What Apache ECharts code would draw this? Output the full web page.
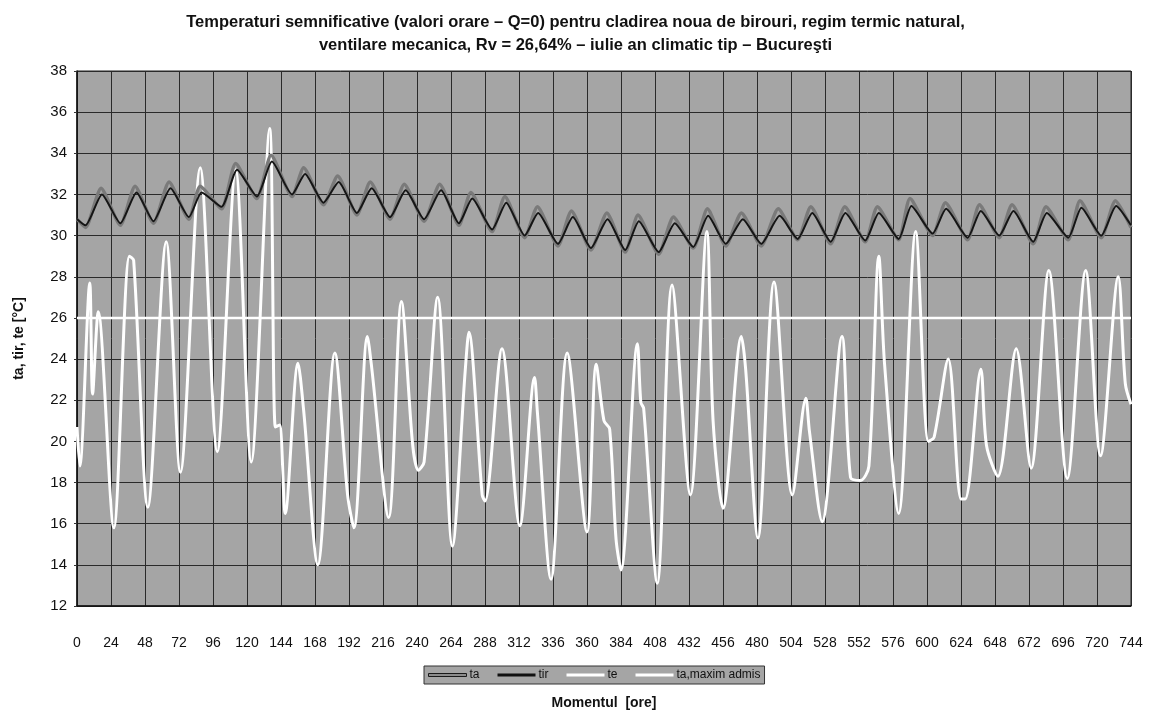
<!DOCTYPE html>
<html>
<head>
<meta charset="utf-8">
<script src="https://cdn.jsdelivr.net/npm/echarts@6/dist/echarts.min.js"></script>
<style>
  html, body { margin: 0; padding: 0; background: #ffffff; }
  #chart { width: 1151px; height: 715px; }
</style>
</head>
<body>
<div id="chart"></div>
<script>
// Hourly temperatures for July (hours 0..744), extremes of each daily cycle
const xTicks = { min: 0, max: 744, step: 24 };
const yTicks = { min: 12, max: 38, step: 2 };
const seriesNames = ['ta', 'tir', 'te', 'ta,maxim admis'];

// ta - indoor air temperature [°C]
const ta = [
  [0,30.8],[6,30.4],[17,32.3],[30.6,30.5],[41,32.4],[54,30.6],[65,32.6],[79,30.8],
  [87,32.4],[102,31.3],[112,33.5],[127,31.8],[137,33.9],[151.8,31.9],[160,33.3],[174,31.5],
  [184,32.9],[197.6,31.0],[207,32.6],[221,30.8],[231,32.5],[245,30.7],[256,32.5],[269.6,30.5],
  [278,32.1],[293,30.2],[302,31.9],[316,29.9],[325,31.4],[339.5,29.5],[349,31.2],[362.8,29.3],
  [374,31.1],[387,29.2],[396,31.0],[410.6,29.1],[421,30.9],[435,29.4],[445,31.3],[458,29.5],
  [469,31.1],[483,29.5],[495,31.3],[508.7,29.8],[518,31.4],[532,29.6],[542,31.4],[556.4,29.7],
  [565,31.4],[580,29.8],[588,31.8],[604,30.0],[613,31.6],[628.7,29.8],[637,31.5],[651,29.9],
  [660,31.5],[675,29.6],[684,31.4],[699.7,29.8],[708,31.7],[723,29.9],[733,31.7],[744,30.4]
];

// tir - radiant-air (operative) temperature [°C]
const tir = [
  [0,30.8],[6,30.5],[17.6,32.0],[30.6,30.6],[42,32.1],[54,30.7],[66,32.3],[79,30.9],
  [88,32.1],[102,31.4],[113,33.2],[127,31.9],[137.6,33.6],[151.8,32.0],[161,33.0],[174,31.6],
  [184.7,32.6],[197.6,31.1],[208,32.3],[221,30.9],[232,32.2],[245,30.8],[257,32.2],[269.6,30.6],
  [279,31.8],[293,30.3],[303,31.6],[316,30.0],[325.5,31.1],[339.5,29.6],[350,30.9],[362.8,29.4],
  [374.5,30.8],[387,29.3],[396.6,30.7],[410.6,29.2],[422,30.6],[435,29.45],[445.5,30.96],[458,29.6],
  [470,30.8],[483,29.6],[496,30.96],[508.7,29.84],[519,31.1],[532,29.7],[542.4,31.1],[556.4,29.76],
  [566,31.1],[580,29.84],[589,31.44],[604,30.1],[613.5,31.3],[628.7,29.9],[638,31.2],[651,30.0],
  [661,31.2],[675,29.7],[684.6,31.1],[699.7,29.9],[709,31.36],[723,30.0],[733.5,31.44],[744,30.5]
];

// te - outdoor air temperature [°C]
const te = [
  [0,20.7],[2,18.8],[9,27.7],[11,22.3],[15,26.3],[26,15.8],[37,29.0],[40,28.8],
  [50,16.8],[63,29.7],[73,18.5],[87,33.3],[99,19.5],[112,33.2],[123,19.0],[136,35.2],
  [140,20.7],[143,20.8],[147,16.5],[156,23.8],[160,21.5],[170,14.0],[182,24.3],[191,17.4],
  [195.5,15.8],[205,25.1],[208,23.6],[220,16.3],[229,26.8],[237,19.8],[241,18.6],[245,19.0],
  [254.6,27.0],[265,14.9],[274,23.4],[276.6,25.3],[286,17.4],[288,17.1],[300,24.5],[312.6,15.9],
  [323,23.1],[325,21.4],[334.6,13.3],[346,24.3],[360,15.6],[366.5,23.75],[372,21.0],[376,20.6],
  [380.5,15.25],[384,13.75],[395.6,24.75],[398,21.9],[400,21.6],[409.6,13.1],[420,27.6],[433,17.4],
  [444.6,30.2],[449,21.0],[456,16.75],[469,25.1],[472,23.5],[480.7,15.3],[492,27.75],[505,17.4],
  [514.5,22.1],[517,20.5],[526,16.1],[540,25.1],[546,18.25],[553,18.1],[559,18.8],[566,29.0],
  [570,23.8],[580,16.5],[592,30.2],[601,20.0],[605,20.2],[615,24.0],[624,17.2],[627,17.2],
  [638,23.5],[642,19.8],[650,18.3],[663,24.5],[673.5,18.7],[686,28.3],[699,18.2],[712,28.3],
  [722.5,19.3],[735,28.0],[740,22.8],[744,21.8]
];

// ta,maxim admis - maximum admissible indoor air temperature [°C]
const taMaxAdmis = [[0,26.0],[744,26.0]];

const chart = echarts.init(document.getElementById('chart'), null, { renderer: 'canvas' });

const font = 'Liberation Sans, Arial, sans-serif';

chart.setOption({
  animation: false,
  backgroundColor: '#ffffff',
  title: {
    text: 'Temperaturi semnificative (valori orare – Q=0) pentru cladirea noua de birouri, regim termic natural,\nventilare mecanica, Rv = 26,64% – iulie an climatic tip – Bucureşti',
    left: 'center',
    top: 6,
    textStyle: { fontFamily: font, fontSize: 16.5, fontWeight: 'bold', color: '#111', lineHeight: 23 }
  },
  grid: {
    left: 77, right: 20, top: 71, bottom: 102,
    show: true,
    backgroundColor: '#a5a5a5',
    borderColor: '#222',
    borderWidth: 1
  },
  legend: {
    data: [
      { name: 'ta', itemStyle: { color: '#8c8c8c', borderColor: '#1a1a1a', borderWidth: 1 } },
      { name: 'tir', itemStyle: { color: '#111111' } },
      { name: 'te', itemStyle: { color: '#ffffff' } },
      { name: 'ta,maxim admis', itemStyle: { color: '#ffffff' } }
    ],
    left: 424,
    top: 666,
    icon: 'rect',
    itemWidth: 38,
    itemHeight: 3,
    itemGap: 18,
    padding: [3, 4],
    backgroundColor: '#a5a5a5',
    borderColor: '#333',
    borderWidth: 1,
    textStyle: { fontFamily: font, fontSize: 12, color: '#111', padding: [0, 0, 0, -2] }
  },
  xAxis: {
    type: 'value',
    min: xTicks.min,
    max: xTicks.max,
    interval: xTicks.step,
    name: 'Momentul  [ore]',
    nameLocation: 'middle',
    nameGap: 90,
    nameTextStyle: { fontFamily: font, fontSize: 14, fontWeight: 'bold', color: '#111' },
    axisLine: { show: true, lineStyle: { color: '#111', width: 1.5 } },
    axisTick: { show: false },
    axisLabel: { margin: 30, fontFamily: font, fontSize: 14, color: '#111' },
    splitLine: { show: true, lineStyle: { color: '#2a2a2a', width: 1 } }
  },
  yAxis: {
    type: 'value',
    min: yTicks.min,
    max: yTicks.max,
    interval: yTicks.step,
    name: 'ta, tir, te [°C]',
    nameLocation: 'middle',
    nameGap: 51,
    nameRotate: 90,
    nameTextStyle: { fontFamily: font, fontSize: 14, fontWeight: 'bold', color: '#111' },
    axisLine: { show: true, lineStyle: { color: '#111', width: 1.5 } },
    axisTick: { show: true, length: 3, lineStyle: { color: '#333' } },
    axisLabel: { margin: 10, fontFamily: font, fontSize: 15, color: '#111' },
    splitLine: { show: true, lineStyle: { color: '#2a2a2a', width: 1 } }
  },
  series: [
    {
      name: 'ta', type: 'line', data: ta, showSymbol: false, z: 3, smooth: 0.2,
      lineStyle: { color: '#7a7a7a', width: 3.5 }
    },
    {
      name: 'tir', type: 'line', data: tir, showSymbol: false, z: 4, smooth: 0.2,
      lineStyle: { color: '#151515', width: 2 }
    },
    {
      name: 'te', type: 'line', data: te, showSymbol: false, z: 2, smooth: 0.3,
      lineStyle: { color: '#ffffff', width: 3 }
    },
    {
      name: 'ta,maxim admis', type: 'line', data: taMaxAdmis, showSymbol: false, z: 1,
      lineStyle: { color: '#ffffff', width: 2.5 }
    }
  ]
});
</script>
</body>
</html>
